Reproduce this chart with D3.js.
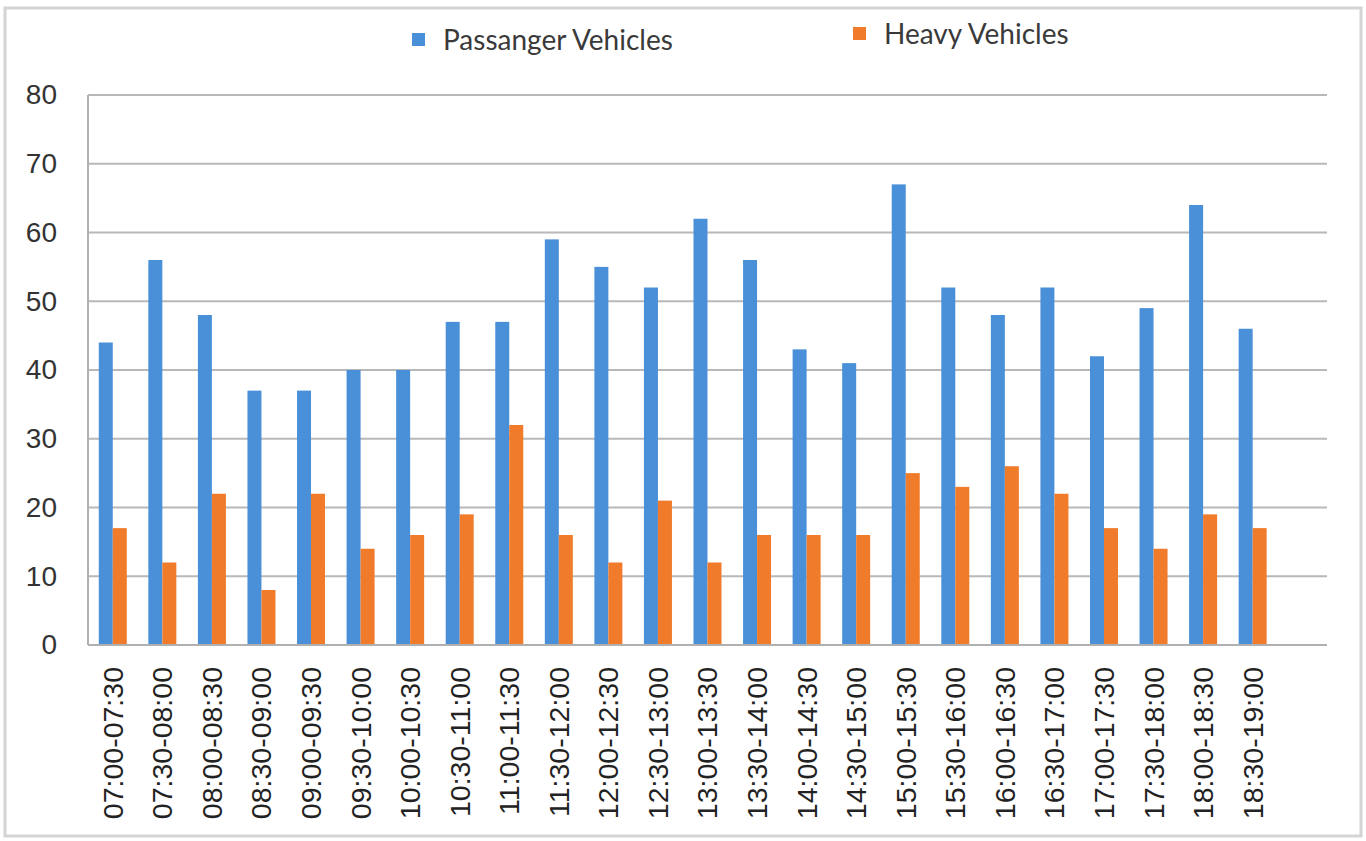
<!DOCTYPE html>
<html>
<head>
<meta charset="utf-8">
<script src="https://cdn.jsdelivr.net/npm/d3@7"></script>
<style>
  body { margin: 0; background: #fff; }
  svg { display: block; }
</style>
</head>
<body>
<div id="chart"></div>
<script>
// categories (half hour slots)
var slots = ["07:00-07:30", "07:30-08:00", "08:00-08:30", "08:30-09:00", "09:00-09:30",
  "09:30-10:00", "10:00-10:30", "10:30-11:00", "11:00-11:30", "11:30-12:00",
  "12:00-12:30", "12:30-13:00", "13:00-13:30", "13:30-14:00", "14:00-14:30",
  "14:30-15:00", "15:00-15:30", "15:30-16:00", "16:00-16:30", "16:30-17:00",
  "17:00-17:30", "17:30-18:00", "18:00-18:30", "18:30-19:00"];

var passenger = [44, 56, 48, 37, 37, 40, 40, 47, 47, 59, 55, 52, 62, 56, 43, 41, 67, 52, 48, 52, 42, 49, 64, 46];
var heavy = [17, 12, 22, 8, 22, 14, 16, 19, 32, 16, 12, 21, 12, 16, 16, 16, 25, 23, 26, 22, 17, 14, 19, 17];

var seriesNames = ["Passanger Vehicles", "Heavy Vehicles"];
var seriesColors = ["#4a90d9", "#ef7b2b"];
var yTicks = [0, 10, 20, 30, 40, 50, 60, 70, 80];

var svgWidth = 1366;
var svgHeight = 841;

// plot area
var margin = { top: 95, left: 88, right: 39, bottom: 196 };
var chartWidth = svgWidth - margin.left - margin.right;
var chartHeight = svgHeight - margin.top - margin.bottom;

var svg = d3.select("#chart")
  .append("svg")
  .attr("width", svgWidth)
  .attr("height", svgHeight);

// outer border of the chart
svg.append("rect")
  .attr("x", 5)
  .attr("y", 8)
  .attr("width", 1356)
  .attr("height", 828)
  .attr("fill", "none")
  .attr("stroke", "#d4d4d4")
  .attr("stroke-width", 3);

var chartGroup = svg.append("g")
  .attr("transform", "translate(" + margin.left + ", " + margin.top + ")");

// the plot keeps one empty slot at the right end, so bands cover 24/25 of it
var step = chartWidth / (slots.length + 1);
var pad = 1 - 28 / step;
var x0 = d3.scaleBand()
  .domain(slots)
  .range([0, step * slots.length])
  .paddingInner(pad)
  .paddingOuter(pad / 2);

var x1 = d3.scaleBand()
  .domain([0, 1])
  .range([0, x0.bandwidth()]);

var y = d3.scaleLinear().domain([0, 80]).range([chartHeight, 0]);

// gridlines
chartGroup.append("g")
  .selectAll("line")
  .data(yTicks)
  .enter()
  .append("line")
  .attr("x1", 0)
  .attr("x2", chartWidth)
  .attr("y1", function (d) { return y(d); })
  .attr("y2", function (d) { return y(d); })
  .attr("stroke", "#b8b8b8")
  .attr("stroke-width", 2);

// left axis line
chartGroup.append("line")
  .attr("x1", 0).attr("x2", 0)
  .attr("y1", 0).attr("y2", chartHeight)
  .attr("stroke", "#b0b0b0")
  .attr("stroke-width", 2);

// bars
var rows = slots.map(function (s, i) {
  return { slot: s, values: [passenger[i], heavy[i]] };
});

var groups = chartGroup.selectAll(".grp")
  .data(rows)
  .enter()
  .append("g")
  .attr("class", "grp")
  .attr("transform", function (d) { return "translate(" + x0(d.slot) + ",0)"; });

groups.selectAll("rect")
  .data(function (d) { return d.values; })
  .enter()
  .append("rect")
  .attr("x", function (d, i) { return x1(i); })
  .attr("y", function (d) { return y(d); })
  .attr("width", x1.bandwidth())
  .attr("height", function (d) { return chartHeight - y(d); })
  .attr("fill", function (d, i) { return seriesColors[i]; });

// zero line on top of bars
chartGroup.append("line")
  .attr("x1", 0).attr("x2", chartWidth)
  .attr("y1", chartHeight).attr("y2", chartHeight)
  .attr("stroke", "#b0b0b0")
  .attr("stroke-width", 2);

// y axis labels
var leftAxis = d3.axisLeft(y).tickValues(yTicks).tickSize(0).tickPadding(31);
var yAxisG = chartGroup.append("g").call(leftAxis);
yAxisG.select(".domain").remove();
yAxisG.selectAll("text")
  .attr("font-family", "'Liberation Sans', Arial, sans-serif")
  .attr("font-size", 28)
  .attr("fill", "#333");

// x axis labels, rotated
var bottomAxis = d3.axisBottom(x0).tickSize(0).tickPadding(0);
var xAxisG = chartGroup.append("g")
  .attr("transform", "translate(0, " + chartHeight + ")")
  .call(bottomAxis);
xAxisG.select(".domain").remove();
xAxisG.selectAll("text")
  .attr("font-family", "'Liberation Sans', Arial, sans-serif")
  .attr("font-size", 28.5)
  .attr("fill", "#222")
  .attr("text-anchor", "end")
  .attr("transform", "translate(0, 22) rotate(-90)")
  .attr("x", 0)
  .attr("y", 0)
  .attr("dy", "0.35em");

// legend
var legendPos = [{ x: 412, y: 40 }, { x: 853, y: 34 }];
var legend = svg.selectAll(".legend")
  .data(seriesNames)
  .enter()
  .append("g")
  .attr("class", "legend")
  .attr("transform", function (d, i) { return "translate(" + legendPos[i].x + "," + legendPos[i].y + ")"; });

legend.append("rect")
  .attr("x", 0)
  .attr("y", -7)
  .attr("width", 13)
  .attr("height", 13)
  .attr("fill", function (d, i) { return seriesColors[i]; });

legend.append("text")
  .attr("x", 31)
  .attr("y", 0)
  .attr("dy", "0.35em")
  .attr("font-family", "Lato, 'Open Sans', sans-serif")
  .attr("font-size", 28)
  .attr("fill", "#3a3a3a")
  .text(function (d) { return d; });
</script>
</body>
</html>
